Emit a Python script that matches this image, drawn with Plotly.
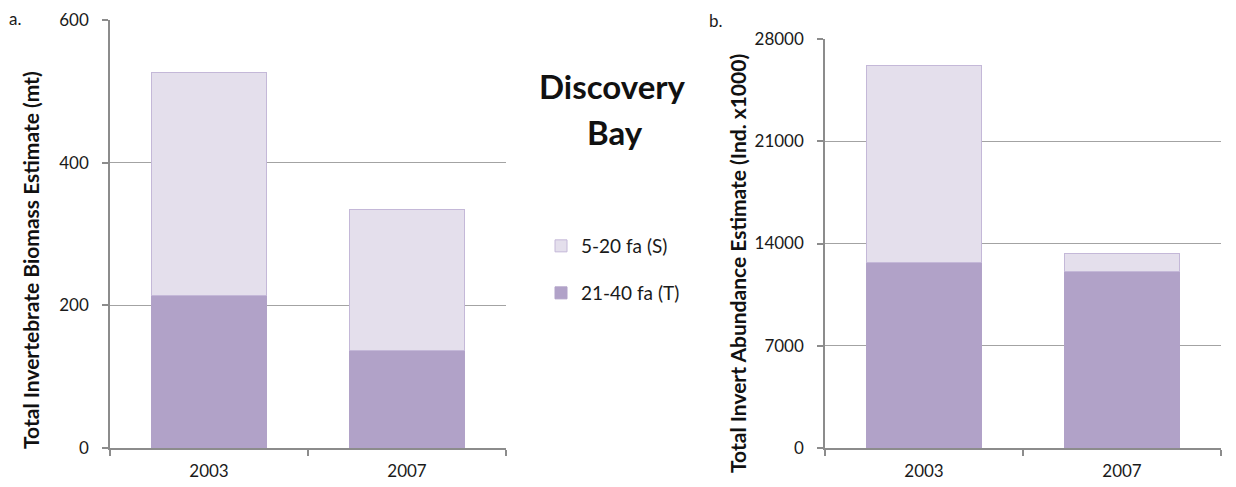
import plotly.graph_objects as go

years = ["2003", "2007"]
biomass_T = [214, 137]
biomass_S = [312, 198]
abund_T = [12700, 12100]
abund_S = [13500, 1200]
series_names = ["5-20 fa (S)", "21-40 fa (T)"]
biomass_ticks = [0, 200, 400, 600]
abund_ticks = [0, 7000, 14000, 21000, 28000]

OFF = 8  # page body margin
W, H = 1236 - OFF, 487 - OFF
FONT = "Lato"
DARK = "#b1a2c8"
LIGHT = "#e4dfec"
LIGHT_EDGE = "#c4b8d8"
GRID = "#a3a3a3"
AXIS = "#8c8c8c"
TXT = "#1a1a1a"


def fx(p):
    return (p - OFF) / W


def fy(p):
    return 1 - (p - OFF) / H


fig = go.Figure()

fig.add_trace(go.Bar(x=years, y=biomass_T, name=series_names[1],
                     marker=dict(color=DARK, line=dict(color=DARK, width=1)),
                     xaxis="x", yaxis="y", legend="legend2", width=0.58))
fig.add_trace(go.Bar(x=years, y=biomass_S, name=series_names[0],
                     marker=dict(color=LIGHT, line=dict(color=LIGHT_EDGE, width=1)),
                     xaxis="x", yaxis="y", legend="legend", width=0.58))
fig.add_trace(go.Bar(x=years, y=abund_T, name=series_names[1],
                     marker=dict(color=DARK, line=dict(color=DARK, width=1)),
                     xaxis="x2", yaxis="y2", showlegend=False, width=0.58))
fig.add_trace(go.Bar(x=years, y=abund_S, name=series_names[0],
                     marker=dict(color=LIGHT, line=dict(color=LIGHT_EDGE, width=1)),
                     xaxis="x2", yaxis="y2", showlegend=False, width=0.58))

xcommon = dict(type="category", showline=True, linecolor=AXIS, linewidth=1.5, ticks="outside",
               tickson="boundaries", ticklen=6, tickcolor=AXIS, tickwidth=1.5, showgrid=False,
               automargin=False, tickfont=dict(family=FONT, size=17, color=TXT),
               ticklabelstandoff=7, fixedrange=True)
ycommon = dict(showline=True, linecolor=AXIS, linewidth=1.5, ticks="outside", ticklen=6, tickcolor=AXIS,
               tickwidth=1.5, showgrid=True, gridcolor=GRID, gridwidth=1, zeroline=False, automargin=False,
               tickfont=dict(family=FONT, size=17, color=TXT), ticklabelstandoff=10,
               tickformat="d", fixedrange=True)

fig.update_layout(
    width=W, height=H, margin=dict(l=0, r=0, t=0, b=0),
    paper_bgcolor="white", plot_bgcolor="white", barmode="stack",
    xaxis=dict(domain=[fx(110), fx(506)], anchor="y", **xcommon),
    yaxis=dict(domain=[fy(448), fy(20)], anchor="x", range=[0, 600], tickvals=biomass_ticks, **ycommon),
    xaxis2=dict(domain=[fx(825), fx(1221)], anchor="y2", **xcommon),
    yaxis2=dict(domain=[fy(448), fy(39)], anchor="x2", range=[0, 28000], tickvals=abund_ticks, **ycommon),
    legend=dict(x=fx(541), y=fy(246), xanchor="left", yanchor="middle", bgcolor="rgba(0,0,0,0)",
                font=dict(family=FONT, size=19, color=TXT)),
    legend2=dict(x=fx(541), y=fy(293), xanchor="left", yanchor="middle", bgcolor="rgba(0,0,0,0)",
                 font=dict(family=FONT, size=19, color=TXT)),
    showlegend=True,
)

for txt, x, y in [("a.", 8, 18), ("b.", 708, 20)]:
    fig.add_annotation(text=txt, x=fx(x), y=fy(y), xref="paper", yref="paper", showarrow=False,
                       xanchor="left", yanchor="middle", borderpad=0,
                       font=dict(family=FONT, size=17, color=TXT))

fig.add_annotation(text="<b>Discovery</b>", x=fx(612), y=fy(86), xref="paper", yref="paper", showarrow=False,
                   xanchor="center", yanchor="middle", font=dict(family=FONT, size=33, color="#111"))
fig.add_annotation(text="<b>Bay</b>", x=fx(615), y=fy(132), xref="paper", yref="paper", showarrow=False,
                   xanchor="center", yanchor="middle", font=dict(family=FONT, size=33, color="#111"))

fig.add_annotation(text="<b>Total Invertebrate Biomass Estimate (mt)</b>", x=fx(30), y=fy(260),
                   xref="paper", yref="paper", showarrow=False, textangle=-90, xanchor="center",
                   yanchor="middle", font=dict(family=FONT, size=21, color="#111"))
fig.add_annotation(text="<b>Total Invert Abundance Estimate (Ind. x1000)</b>", x=fx(738), y=fy(264),
                   xref="paper", yref="paper", showarrow=False, textangle=-90, xanchor="center",
                   yanchor="middle", font=dict(family=FONT, size=21, color="#111"))

fig.write_html("out.html")
